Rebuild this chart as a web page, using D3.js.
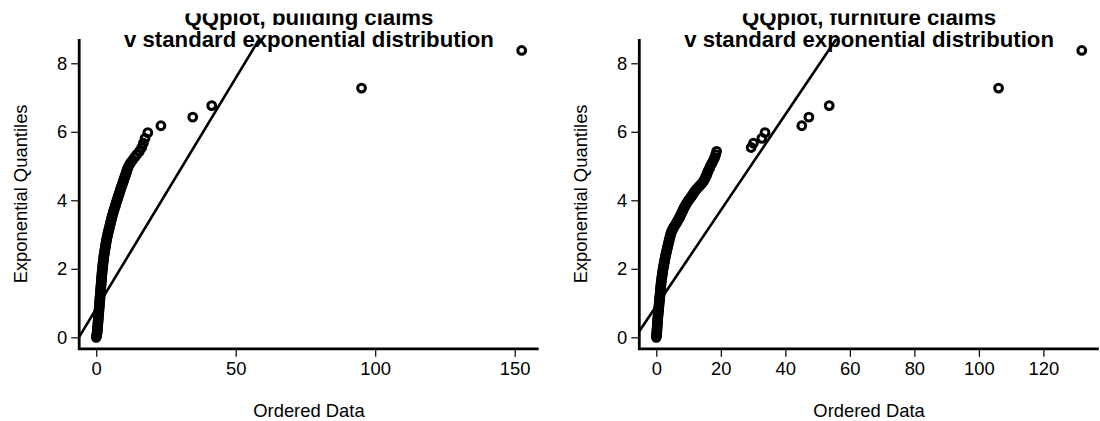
<!DOCTYPE html>
<html>
<head>
<meta charset="utf-8">
<script src="https://cdn.jsdelivr.net/npm/d3@7/dist/d3.min.js"></script>
<style>
  body { margin: 0; background: #fff; }
  svg { display: block; }
  text { font-family: "Liberation Sans", Arial, Helvetica, sans-serif; fill: #000; }
</style>
</head>
<body>
<svg id="chart" width="1100" height="421"></svg>
<script>
// Exponential quantiles (y) against ordered claim sizes (x), one pair of arrays per panel.
const buildingQuantiles = [
  0.00, 0.05, 0.10, 0.15, 0.20, 0.25, 0.30, 0.35, 0.40, 0.45,
  0.50, 0.55, 0.60, 0.65, 0.70, 0.75, 0.80, 0.85, 0.90, 0.95,
  1.00, 1.05, 1.10, 1.15, 1.20, 1.25, 1.30, 1.35, 1.40, 1.45,
  1.50, 1.55, 1.60, 1.65, 1.70, 1.75, 1.80, 1.85, 1.90, 1.95,
  2.00, 2.05, 2.10, 2.15, 2.20, 2.25, 2.30, 2.35, 2.40, 2.45,
  2.50, 2.55, 2.60, 2.65, 2.70, 2.75, 2.80, 2.85, 2.90, 2.95,
  3.00, 3.05, 3.10, 3.15, 3.20, 3.25, 3.30, 3.35, 3.40, 3.45,
  3.50, 3.55, 3.60, 3.65, 3.70, 3.75, 3.80, 3.85, 3.90, 3.95,
  4.00, 4.05, 4.10, 4.15, 4.20, 4.25, 4.30, 4.35, 4.40, 4.45,
  4.50, 4.55, 4.60, 4.65, 4.70,
  4.737, 4.789, 4.843, 4.900, 4.960, 5.025, 5.094, 5.168, 5.248, 5.335,
  5.430, 5.541, 5.666, 5.809, 5.976, 6.177, 6.428, 6.764, 7.275, 8.374
];
const buildingOrdered = [
  0.00, 0.15, 0.25, 0.33, 0.40, 0.45, 0.50, 0.55, 0.60, 0.65,
  0.70, 0.75, 0.80, 0.85, 0.90, 0.95, 1.00, 1.05, 1.10, 1.15,
  1.20, 1.25, 1.30, 1.35, 1.40, 1.45, 1.50, 1.55, 1.60, 1.65,
  1.70, 1.75, 1.80, 1.85, 1.90, 1.95, 2.00, 2.05, 2.10, 2.17,
  2.25, 2.30, 2.35, 2.42, 2.50, 2.57, 2.65, 2.72, 2.80, 2.90,
  3.00, 3.10, 3.20, 3.30, 3.40, 3.50, 3.60, 3.72, 3.85, 3.97,
  4.10, 4.25, 4.40, 4.55, 4.70, 4.85, 5.00, 5.15, 5.30, 5.45,
  5.60, 5.78, 5.95, 6.12, 6.30, 6.50, 6.70, 6.88, 7.05, 7.25,
  7.45, 7.65, 7.85, 8.05, 8.25, 8.45, 8.65, 8.85, 9.05, 9.28,
  9.50, 9.70, 9.90, 10.10, 10.30,
  10.5, 10.7, 10.9, 11.1, 11.4, 11.8, 12.3, 13.0, 13.7, 14.5,
  15.5, 16.3, 16.9, 17.5, 18.5, 23.2, 34.6, 41.4, 95.1, 152.5
];
const furnitureQuantiles = [
  0.00, 0.05, 0.10, 0.15, 0.20, 0.25, 0.30, 0.35, 0.40, 0.45,
  0.50, 0.55, 0.60, 0.65, 0.70, 0.75, 0.80, 0.85, 0.90, 0.95,
  1.00, 1.05, 1.10, 1.15, 1.20, 1.25, 1.30, 1.35, 1.40, 1.45,
  1.50, 1.55, 1.60, 1.65, 1.70, 1.75, 1.80, 1.85, 1.90, 1.95,
  2.00, 2.05, 2.10, 2.15, 2.20, 2.25, 2.30, 2.35, 2.40, 2.45,
  2.50, 2.55, 2.60, 2.65, 2.70, 2.75, 2.80, 2.85, 2.90, 2.95,
  3.00, 3.05, 3.10, 3.15, 3.20, 3.25, 3.30, 3.35, 3.40, 3.45,
  3.50, 3.55, 3.60, 3.65, 3.70, 3.75, 3.80, 3.85, 3.90, 3.95,
  4.00, 4.05, 4.10, 4.15, 4.20, 4.25, 4.30, 4.35, 4.40, 4.45,
  4.50, 4.55, 4.60, 4.65, 4.70,
  4.737, 4.789, 4.843, 4.900, 4.960, 5.025, 5.094, 5.168, 5.248, 5.335,
  5.430, 5.541, 5.666, 5.809, 5.976, 6.177, 6.428, 6.764, 7.275, 8.374
];
const furnitureOrdered = [
  0.00, 0.05, 0.10, 0.15, 0.20, 0.22, 0.25, 0.30, 0.35, 0.38,
  0.40, 0.45, 0.50, 0.55, 0.60, 0.65, 0.70, 0.75, 0.80, 0.85,
  0.90, 0.95, 1.00, 1.05, 1.10, 1.15, 1.20, 1.25, 1.30, 1.35,
  1.40, 1.45, 1.50, 1.57, 1.65, 1.72, 1.80, 1.88, 1.95, 2.02,
  2.10, 2.20, 2.30, 2.40, 2.50, 2.60, 2.70, 2.80, 2.90, 3.02,
  3.15, 3.28, 3.40, 3.52, 3.65, 3.78, 3.90, 4.02, 4.15, 4.28,
  4.40, 4.60, 4.80, 5.05, 5.30, 5.65, 6.00, 6.30, 6.60, 6.90,
  7.20, 7.45, 7.70, 7.95, 8.20, 8.45, 8.70, 9.00, 9.30, 9.65,
  10.00, 10.40, 10.80, 11.15, 11.50, 11.85, 12.20, 12.70, 13.20, 13.70,
  14.20, 14.55, 14.90, 15.15, 15.40,
  15.6, 15.8, 16.0, 16.3, 16.6, 16.9, 17.3, 17.7, 18.1, 18.4,
  18.7, 29.4, 30.1, 32.7, 33.7, 45.1, 47.3, 53.6, 106.1, 131.9
];

// Least-squares reference lines: [intercept, slope]
const buildingFit = [0.835, 0.1347];
const furnitureFit = [0.915, 0.1397];

const buildingTicks = [0, 50, 100, 150];
const furnitureTicks = [0, 20, 40, 60, 80, 100, 120];
const quantileTicks = [0, 2, 4, 6, 8];

const panelTitles = [
  ["QQplot, building claims", "v standard exponential distribution"],
  ["QQplot, furniture claims", "v standard exponential distribution"]
];
const xLabel = "Ordered Data";
const yLabel = "Exponential Quantiles";

const svg = d3.select("#chart");
const FONT = 18.4;

// R-style padded domain (4% each side)
function padded(values) {
  const [lo, hi] = d3.extent(values);
  const pad = (hi - lo) * 0.04;
  return [lo - pad, hi + pad];
}

const panels = [
  { left: 79.2, right: 538.7, xs: buildingOrdered, ys: buildingQuantiles, fit: buildingFit, ticks: buildingTicks, title: panelTitles[0] },
  { left: 639.3, right: 1098.8, xs: furnitureOrdered, ys: furnitureQuantiles, fit: furnitureFit, ticks: furnitureTicks, title: panelTitles[1] }
];
const plotTop = 39.0, plotBottom = 348.8;

const defs = svg.append("defs");
defs.append("clipPath").attr("id", "titleClip")
  .append("rect").attr("x", 0).attr("y", 13.5).attr("width", 1100).attr("height", 421);

panels.forEach((p, i) => {
  const x = d3.scaleLinear().domain(padded(p.xs)).range([p.left, p.right]);
  const y = d3.scaleLinear().domain(padded(p.ys)).range([plotBottom, plotTop]);
  const g = svg.append("g");

  const clipId = "plotClip" + i;
  defs.append("clipPath").attr("id", clipId)
    .append("rect").attr("x", p.left).attr("y", plotTop)
    .attr("width", p.right - p.left).attr("height", plotBottom - plotTop);

  // points
  g.append("g").selectAll("circle")
    .data(d3.range(p.xs.length))
    .join("circle")
    .attr("cx", k => x(p.xs[k]))
    .attr("cy", k => y(p.ys[k]))
    .attr("r", 3.9)
    .attr("fill", "none")
    .attr("stroke", "#000")
    .attr("stroke-width", 3.0);

  // fitted line
  const [x0, x1] = x.domain();
  g.append("line")
    .attr("clip-path", `url(#${clipId})`)
    .attr("x1", x(x0)).attr("y1", y(p.fit[0] + p.fit[1] * x0))
    .attr("x2", x(x1)).attr("y2", y(p.fit[0] + p.fit[1] * x1))
    .attr("stroke", "#000").attr("stroke-width", 2.6);

  // L-shaped frame
  g.append("path")
    .attr("d", `M${p.left},${plotTop}V${plotBottom}H${p.right}`)
    .attr("fill", "none").attr("stroke", "#000").attr("stroke-width", 2.8)
    .attr("stroke-linejoin", "miter");

  // x axis ticks and labels
  const xa = g.append("g").attr("transform", `translate(0,${plotBottom})`)
    .call(d3.axisBottom(x).tickValues(p.ticks).tickSize(8).tickPadding(5).tickFormat(d3.format("d")));
  xa.select(".domain").remove();
  xa.selectAll("line").attr("stroke-width", 1.2);
  xa.selectAll("text").attr("font-size", FONT).attr("font-family", null);

  // y axis ticks and labels
  const ya = g.append("g").attr("transform", `translate(${p.left},0)`)
    .call(d3.axisLeft(y).tickValues(quantileTicks).tickSize(8).tickPadding(4).tickFormat(d3.format("d")));
  ya.select(".domain").remove();
  ya.selectAll("line").attr("stroke-width", 1.2);
  ya.selectAll("text").attr("font-size", FONT).attr("font-family", null);

  const cx = (p.left + p.right) / 2;
  const cy = (plotTop + plotBottom) / 2;

  // axis titles
  g.append("text").attr("x", cx).attr("y", 417).attr("text-anchor", "middle")
    .attr("font-size", FONT).text(xLabel);
  g.append("text").attr("transform", `translate(${p.left - 52.7},${cy}) rotate(-90)`)
    .attr("text-anchor", "middle").attr("font-size", FONT).text(yLabel);

  // two-line title
  const t = g.append("g").attr("clip-path", "url(#titleClip)");
  p.title.forEach((line, j) => {
    t.append("text").attr("x", cx).attr("y", 25.3 + j * 21.4)
      .attr("text-anchor", "middle").attr("font-size", 22.2).attr("font-weight", "bold")
      .text(line);
  });
});
</script>
</body>
</html>
